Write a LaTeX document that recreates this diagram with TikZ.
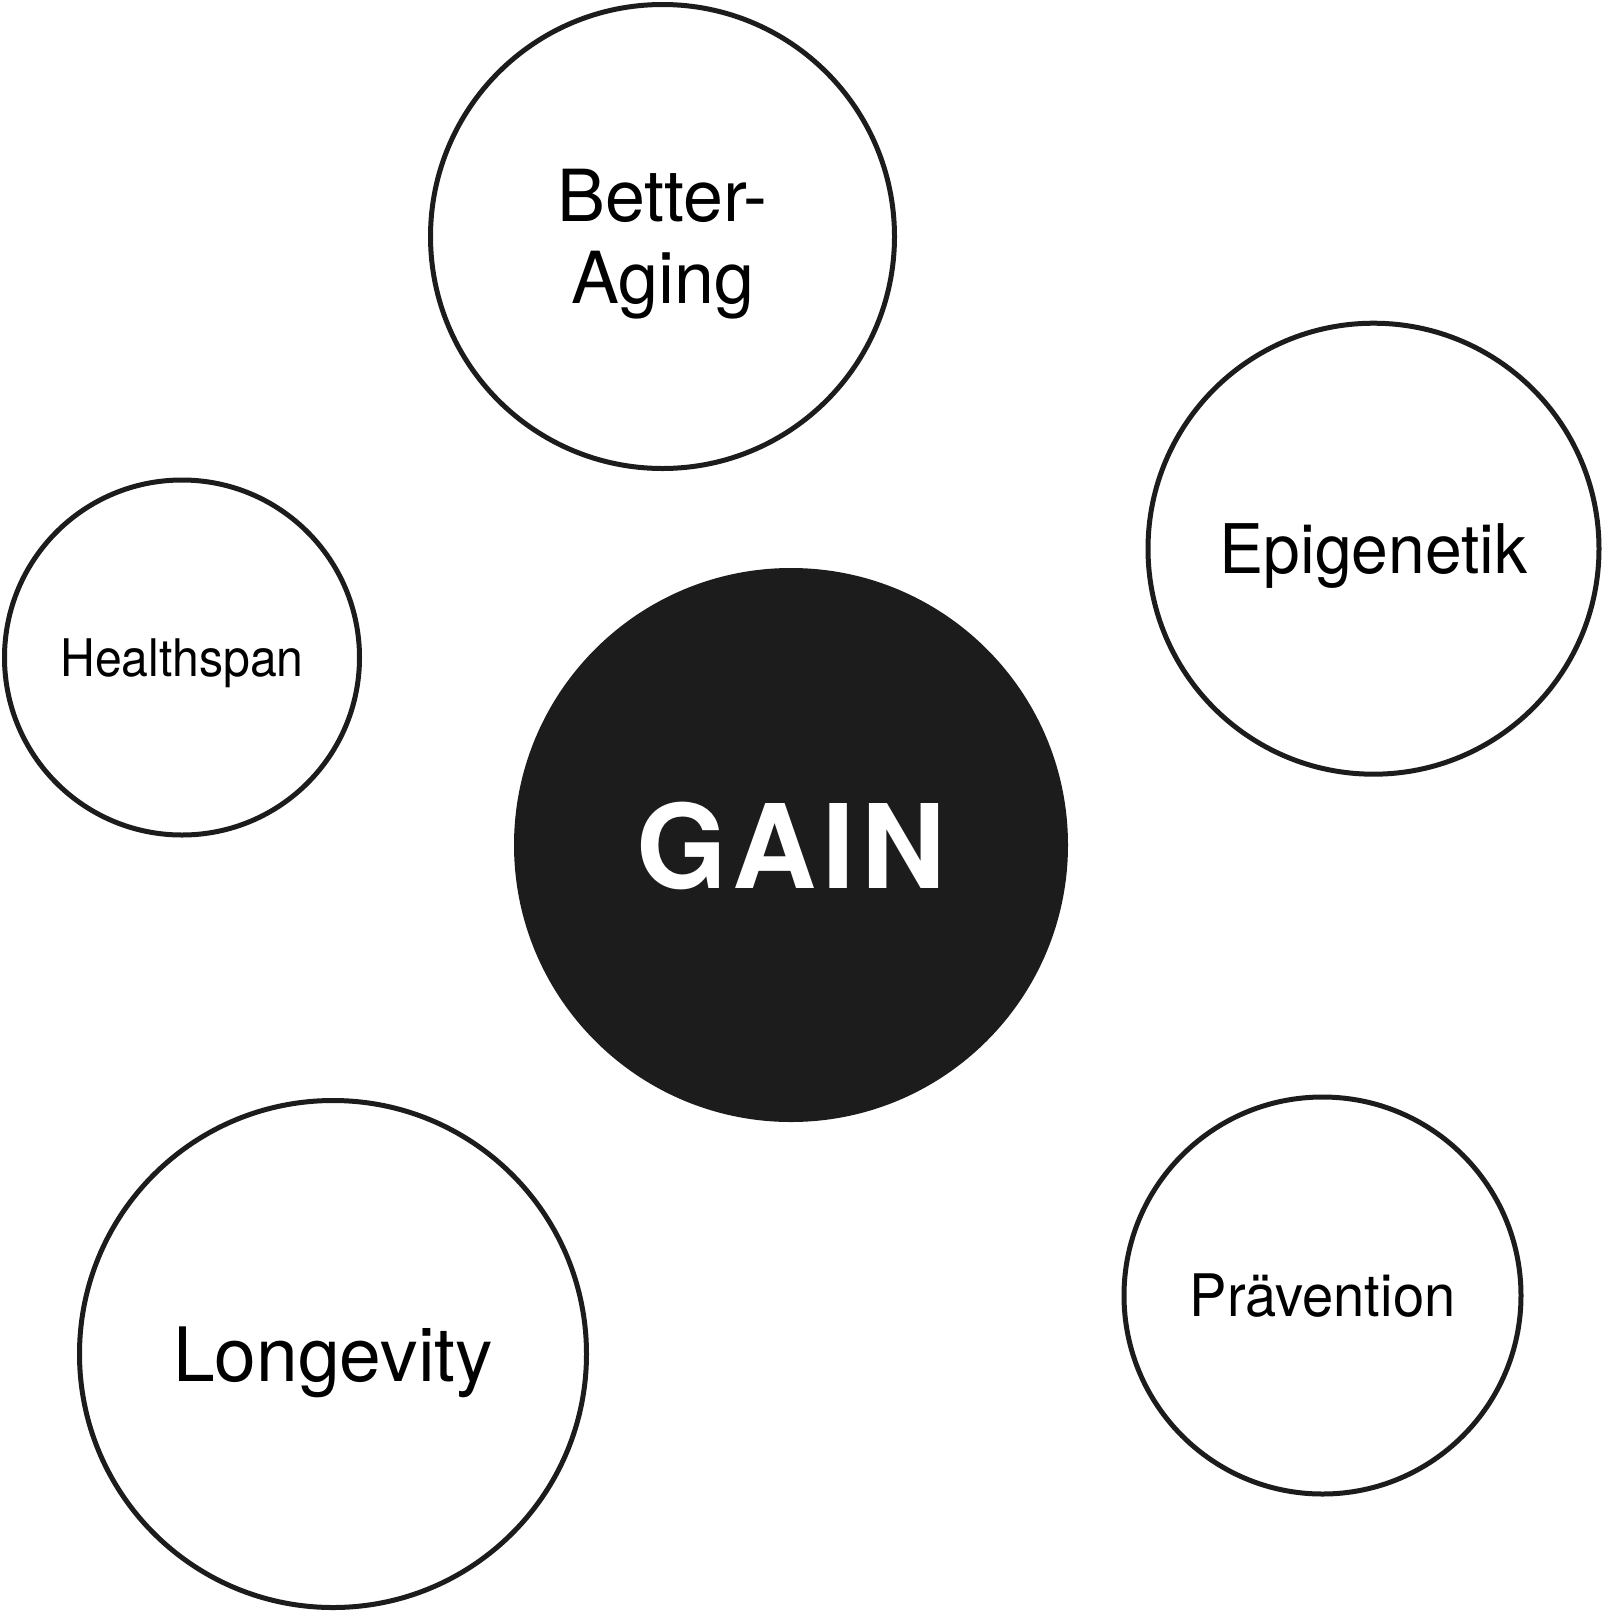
\documentclass[tikz,border=0pt]{standalone}
\usepackage{fontspec}
\setmainfont{TeX Gyre Heros}
\newfontfamily\gainfont{TeX Gyre Heros}[LetterSpace=5.5]
\usepackage{xcolor}
\definecolor{ink}{HTML}{1C1C1C}
\usetikzlibrary{positioning}

\begin{document}
\begin{tikzpicture}[x=0.5pt,y=-0.5pt,
    bubble/.style={circle,draw=ink,line width=2.5pt,inner sep=0pt,text depth=0pt},
    core/.style={circle,fill=ink,text=white,inner sep=0pt,text depth=0pt}]
    \useasboundingbox (0,0) rectangle (1602,1612);
    \node (0) [core,minimum size=277pt,font=\gainfont\bfseries\fontsize{58.3}{70}\selectfont] at (791,845) {GAIN};
    \node (1) [bubble,minimum size=232pt,align=center,font=\fontsize{35.9}{40.8}\selectfont] at (662.5,236.5) {Better-\\Aging};
    \node (2) [bubble,minimum size=177.5pt,font=\fontsize{25.9}{31}\selectfont\addfontfeature{FakeStretch=0.93}] at (182,657.5) {Healthspan};
    \node (3) [bubble,minimum size=225.5pt,font=\fontsize{34.2}{41}\selectfont\addfontfeature{FakeStretch=0.965}] at (1373.5,548.7) {Epigenetik};
    \node (4) [bubble,minimum size=253.5pt,font=\fontsize{37.5}{45}\selectfont] at (333,1354) {Longevity};
    \node (5) [bubble,minimum size=198.5pt,font=\fontsize{29.3}{35}\selectfont\addfontfeature{FakeStretch=0.958}] at (1322.5,1295.5) {Prävention};
\end{tikzpicture}
\end{document}
